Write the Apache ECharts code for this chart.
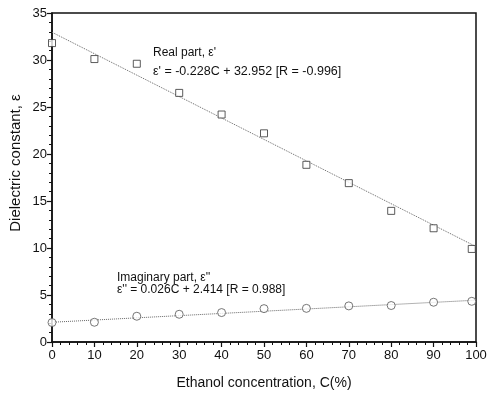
<!DOCTYPE html>
<html>
<head>
<meta charset="UTF-8">
<script src="https://cdn.jsdelivr.net/npm/echarts@6.0.0/dist/echarts.min.js"></script>
<style>
  body { margin: 0; padding: 0; background: #ffffff; }
  #chart { width: 490px; height: 397px; }
</style>
</head>
<body>
<div id="chart"></div>
<script>
// concentrations (%)
const conc = [0, 10, 20, 30, 40, 50, 60, 70, 80, 90, 99];
// real part e'
const realPart = [31.8, 30.1, 29.6, 26.5, 24.2, 22.2, 18.85, 16.9, 13.95, 12.1, 9.9];
// imaginary part e''
const imagPart = [2.07, 2.1, 2.74, 2.95, 3.13, 3.55, 3.58, 3.84, 3.88, 4.23, 4.33];
// fitted line end points
const realFitX = [0, 100];
const realFitY = [32.95, 10.15];
const imagFitX = [0, 100];
const imagFitY = [2.1, 4.45];

const pair = (xs, ys) => xs.map((x, i) => [x, ys[i]]);

const chart = echarts.init(document.getElementById('chart'));
const font = 'Liberation Sans, Arial, sans-serif';

const option = {
  animation: false,
  grid: {
    left: 52, right: 14, top: 13, bottom: 55,
    show: true, borderColor: '#111', borderWidth: 1.5
  },
  xAxis: {
    type: 'value', min: 0, max: 100, interval: 10,
    name: 'Ethanol concentration, C(%)',
    nameLocation: 'middle', nameGap: 34,
    nameTextStyle: { fontFamily: font, fontSize: 14, color: '#111' },
    axisLine: { lineStyle: { color: '#111', width: 1.5 } },
    axisTick: { length: 5, lineStyle: { color: '#111', width: 1.2 } },
    minorTick: { show: true, splitNumber: 5, length: 3, lineStyle: { color: '#111' } },
    axisLabel: { fontFamily: font, fontSize: 13, color: '#111', margin: 7 },
    splitLine: { show: false }
  },
  yAxis: {
    type: 'value', min: 0, max: 35, interval: 5,
    axisLine: { lineStyle: { color: '#111', width: 1.5 } },
    axisTick: { length: 5, lineStyle: { color: '#111', width: 1.2 } },
    minorTick: { show: true, splitNumber: 5, length: 3, lineStyle: { color: '#111' } },
    axisLabel: { fontFamily: font, fontSize: 13, color: '#111', margin: 5 },
    splitLine: { show: false }
  },
  series: [
    {
      type: 'line', data: pair(realFitX, realFitY), symbol: 'none',
      lineStyle: { type: 'dotted', color: '#666', width: 1 }
    },
    {
      type: 'line', data: pair(imagFitX, imagFitY), symbol: 'none',
      lineStyle: { type: 'dotted', color: '#666', width: 1 }
    },
    {
      type: 'scatter', data: pair(conc, realPart), symbol: 'rect', symbolSize: 7,
      itemStyle: { color: '#fff', borderColor: '#333', borderWidth: 1 },
      z: 3
    },
    {
      type: 'scatter', data: pair(conc, imagPart), symbol: 'circle', symbolSize: 8,
      itemStyle: { color: '#fff', borderColor: '#555', borderWidth: 1 },
      z: 3
    }
  ],
  graphic: [
    { type: 'text', x: 16, y: 163, rotation: Math.PI / 2,
      style: { text: 'Dielectric constant, \u03b5', font: '15px ' + font, fill: '#111',
               align: 'center', verticalAlign: 'middle' } },
    { type: 'text', left: 153, top: 47,
      style: { text: "Real part, \u03b5'", font: '12px ' + font, fill: '#111' } },
    { type: 'text', left: 153, top: 65,
      style: { text: "\u03b5' = -0.228C + 32.952 [R = -0.996]", font: '12.5px ' + font, fill: '#111' } },
    { type: 'text', left: 117, top: 272,
      style: { text: "Imaginary part, \u03b5''", font: '12px ' + font, fill: '#111' } },
    { type: 'text', left: 117, top: 284,
      style: { text: "\u03b5'' = 0.026C + 2.414 [R = 0.988]", font: '12px ' + font, fill: '#111' } }
  ]
};

chart.setOption(option);
</script>
</body>
</html>
